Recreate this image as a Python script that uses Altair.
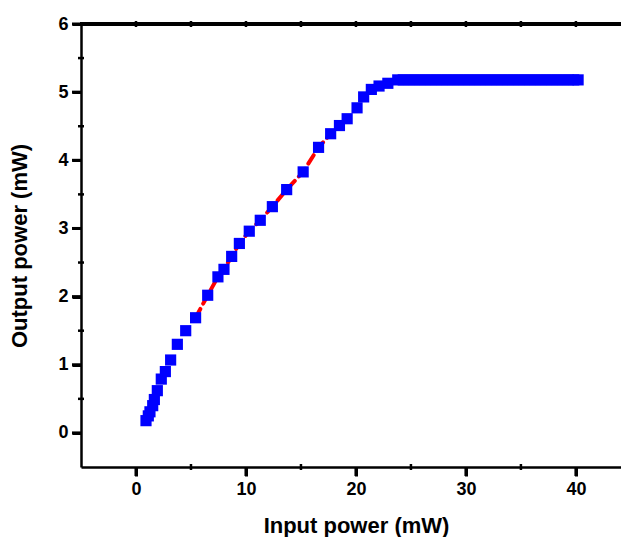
import altair as alt
import pandas as pd

# Measured data (input power mW, output power mW)
input_mw = [0.91, 1.12, 1.27, 1.52, 1.67, 1.94, 2.30, 2.67, 3.15, 3.76, 4.52, 5.42,
            6.52, 7.45, 8.0, 8.7, 9.4, 10.3, 11.3, 12.4, 13.7, 15.2, 16.6, 17.7,
            18.5, 19.2, 20.1, 20.7, 21.4, 22.1, 22.9, 23.8,
            24.3, 24.8, 25.3, 25.8, 26.3, 26.8, 27.3, 27.8, 28.3, 28.8, 29.3, 29.8,
            30.3, 30.8, 31.3, 31.8, 32.3, 32.8, 33.3, 33.8, 34.3, 34.8, 35.3, 35.8,
            36.3, 36.8, 37.3, 37.8, 38.3, 38.8, 39.3, 39.8, 40.2]
output_mw = [0.18, 0.25, 0.31, 0.40, 0.49, 0.62, 0.79, 0.90, 1.07, 1.30, 1.50, 1.69,
             2.02, 2.29, 2.40, 2.59, 2.78, 2.96, 3.12, 3.32, 3.57, 3.83, 4.19, 4.39,
             4.51, 4.61, 4.77, 4.93, 5.04, 5.09, 5.13, 5.18,
             5.18, 5.18, 5.18, 5.18, 5.18, 5.18, 5.18, 5.18, 5.18, 5.18, 5.18, 5.18,
             5.18, 5.18, 5.18, 5.18, 5.18, 5.18, 5.18, 5.18, 5.18, 5.18, 5.18, 5.18,
             5.18, 5.18, 5.18, 5.18, 5.18, 5.18, 5.18, 5.18, 5.18]

# Red dashed fit through the linear region
fit_x = [5.42, 6.52, 7.45, 8.0, 8.7, 9.4, 10.3, 11.3, 12.4, 13.7, 15.2, 16.6, 17.7]
fit_y = [1.69, 2.02, 2.29, 2.40, 2.59, 2.78, 2.96, 3.12, 3.32, 3.57, 3.83, 4.19, 4.39]

x_ticks = [0, 10, 20, 30, 40]
y_ticks = [0, 1, 2, 3, 4, 5, 6]
x_minor = [5, 15, 25, 35]
y_minor = [0.5, 1.5, 2.5, 3.5, 4.5, 5.5]
top_ticks = [0, 5, 10, 15, 20, 25, 30, 35, 40]

df = pd.DataFrame({"x": input_mw, "y": output_mw})
fit = pd.DataFrame({"x": fit_x, "y": fit_y})

FONT = "Liberation Sans"
W, H = 540, 443

xscale = alt.Scale(domain=[-5, 44.1], nice=False, zero=False)
yscale = alt.Scale(domain=[-0.5, 6], nice=False, zero=False)

axis_style = dict(grid=False, domain=True, domainColor="black", domainWidth=2.5,
                  labelFont=FONT, labelFontSize=18, labelFontWeight="bold",
                  labelColor="black", titleFont=FONT, titleFontSize=22,
                  titleFontWeight="bold", titleColor="black", format="d",
                  ticks=True, tickColor="black", tickWidth=3, tickSize=9,
                  labelPadding=4)

xaxis = alt.Axis(values=x_ticks, title="Input power (mW)",
                 titlePadding=17, titleX=275, **axis_style)
yaxis = alt.Axis(values=y_ticks, title="Output power (mW)",
                 titlePadding=26, **axis_style)

line = alt.Chart(fit).mark_line(color="#ff0000", strokeWidth=4,
                                strokeDash=[10, 6], strokeCap="round").encode(
    x=alt.X("x:Q", scale=xscale, axis=xaxis),
    y=alt.Y("y:Q", scale=yscale, axis=yaxis),
)

pts = alt.Chart(df).mark_point(shape="square", filled=True, size=125,
                               color="#0000ff", opacity=1).encode(
    x=alt.X("x:Q", scale=xscale, axis=xaxis),
    y=alt.Y("y:Q", scale=yscale, axis=yaxis),
)

# major/minor tick marks and top-edge ticks, placed through the scales
xt = alt.Chart(pd.DataFrame({"v": x_ticks})).mark_rule(color="black", strokeWidth=3).encode(
    x=alt.X("v:Q", scale=xscale, axis=xaxis), y=alt.value(H), y2=alt.value(H + 9))
yt = alt.Chart(pd.DataFrame({"v": y_ticks})).mark_rule(color="black", strokeWidth=3).encode(
    y=alt.Y("v:Q", scale=yscale, axis=yaxis), x=alt.value(-9), x2=alt.value(0))
xm = alt.Chart(pd.DataFrame({"v": x_minor})).mark_rule(color="black", strokeWidth=2.5).encode(
    x=alt.X("v:Q", scale=xscale, axis=xaxis), y=alt.value(H - 3), y2=alt.value(H + 3))
ym = alt.Chart(pd.DataFrame({"v": y_minor})).mark_rule(color="black", strokeWidth=2.5).encode(
    y=alt.Y("v:Q", scale=yscale, axis=yaxis), x=alt.value(-3), x2=alt.value(3))
tt = alt.Chart(pd.DataFrame({"v": top_ticks})).mark_rule(color="black", strokeWidth=2.5).encode(
    x=alt.X("v:Q", scale=xscale, axis=xaxis), y=alt.value(-3), y2=alt.value(3))

top_border = alt.Chart(df).mark_rule(color="black", strokeWidth=2.5).encode(
    x=alt.value(-1), x2=alt.value(W + 20), y=alt.value(0)
)

chart = alt.layer(line, pts, xt, yt, xm, ym, tt, top_border).properties(
    width=W, height=H,
    padding={"left": 81, "top": 24, "right": 0, "bottom": 70},
    autosize=alt.AutoSizeParams(type="none"),
)

chart.save("out.html", embed_options={"renderer": "svg", "actions": False})
